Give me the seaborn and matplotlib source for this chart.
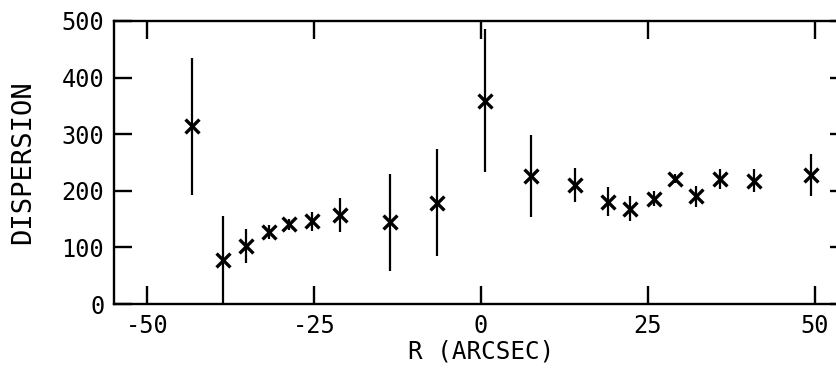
import matplotlib
matplotlib.use("Agg")
import matplotlib.pyplot as plt
import seaborn as sns
import pandas as pd

r_arcsec = [-43.3, -38.65, -35.15, -31.75, -28.75, -25.4, -21.15, -13.65, -6.55, 0.6,
            7.45, 14.1, 19.0, 22.35, 26.0, 29.1, 32.25, 35.75, 40.85, 49.5]
dispersion = [314, 78, 102, 127, 141, 146, 157, 144, 179, 359,
              226, 210, 181, 168, 186, 221, 190, 221, 218, 228]
errors = [121, 77, 30, 12, 10, 17, 30, 86, 94, 126,
          73, 30, 25, 22, 13, 8, 18, 18, 21, 37]
x_ticks = [-50, -25, 0, 25, 50]
y_ticks = [0, 100, 200, 300, 400, 500]

df = pd.DataFrame({"R": r_arcsec, "DISP": dispersion, "ERR": errors})

sns.set_theme(style="ticks")
plt.rcParams["font.family"] = ["DejaVu Sans Mono", "DejaVu Sans"]

fig = plt.figure(figsize=(8.37, 3.68), dpi=100)
W, H = 837, 368
ax = fig.add_axes([114 / W, 1 - 304 / H, (848 - 114) / W, (304 - 21) / H])

ax.errorbar(df["R"], df["DISP"], yerr=df["ERR"], fmt="none", ecolor="black",
            elinewidth=1.6, capsize=0, zorder=2)
sns.scatterplot(data=df, x="R", y="DISP", marker="x", s=100, color="black",
                linewidth=2.4, ax=ax, zorder=3)

ax.set_xlim(-55, 55)
ax.set_ylim(0, 500)
ax.set_xticks(x_ticks)
ax.set_yticks(y_ticks)
ax.set_xticklabels([str(v) for v in x_ticks])
ax.set_yticklabels([str(v) for v in y_ticks])

for s in ax.spines.values():
    s.set_linewidth(1.7)
    s.set_color("black")
    s.set_visible(True)

ax.tick_params(axis="both", which="major", direction="in", length=13, width=1.7,
               colors="black", labelsize=17, top=True, right=True, pad=7)

ax.set_xlabel("R (ARCSEC)", fontsize=17.5, labelpad=1, color="black")
ax.set_ylabel("DISPERSION", fontsize=19.5, labelpad=18, color="black")

fig.savefig("out.png", dpi=100)
